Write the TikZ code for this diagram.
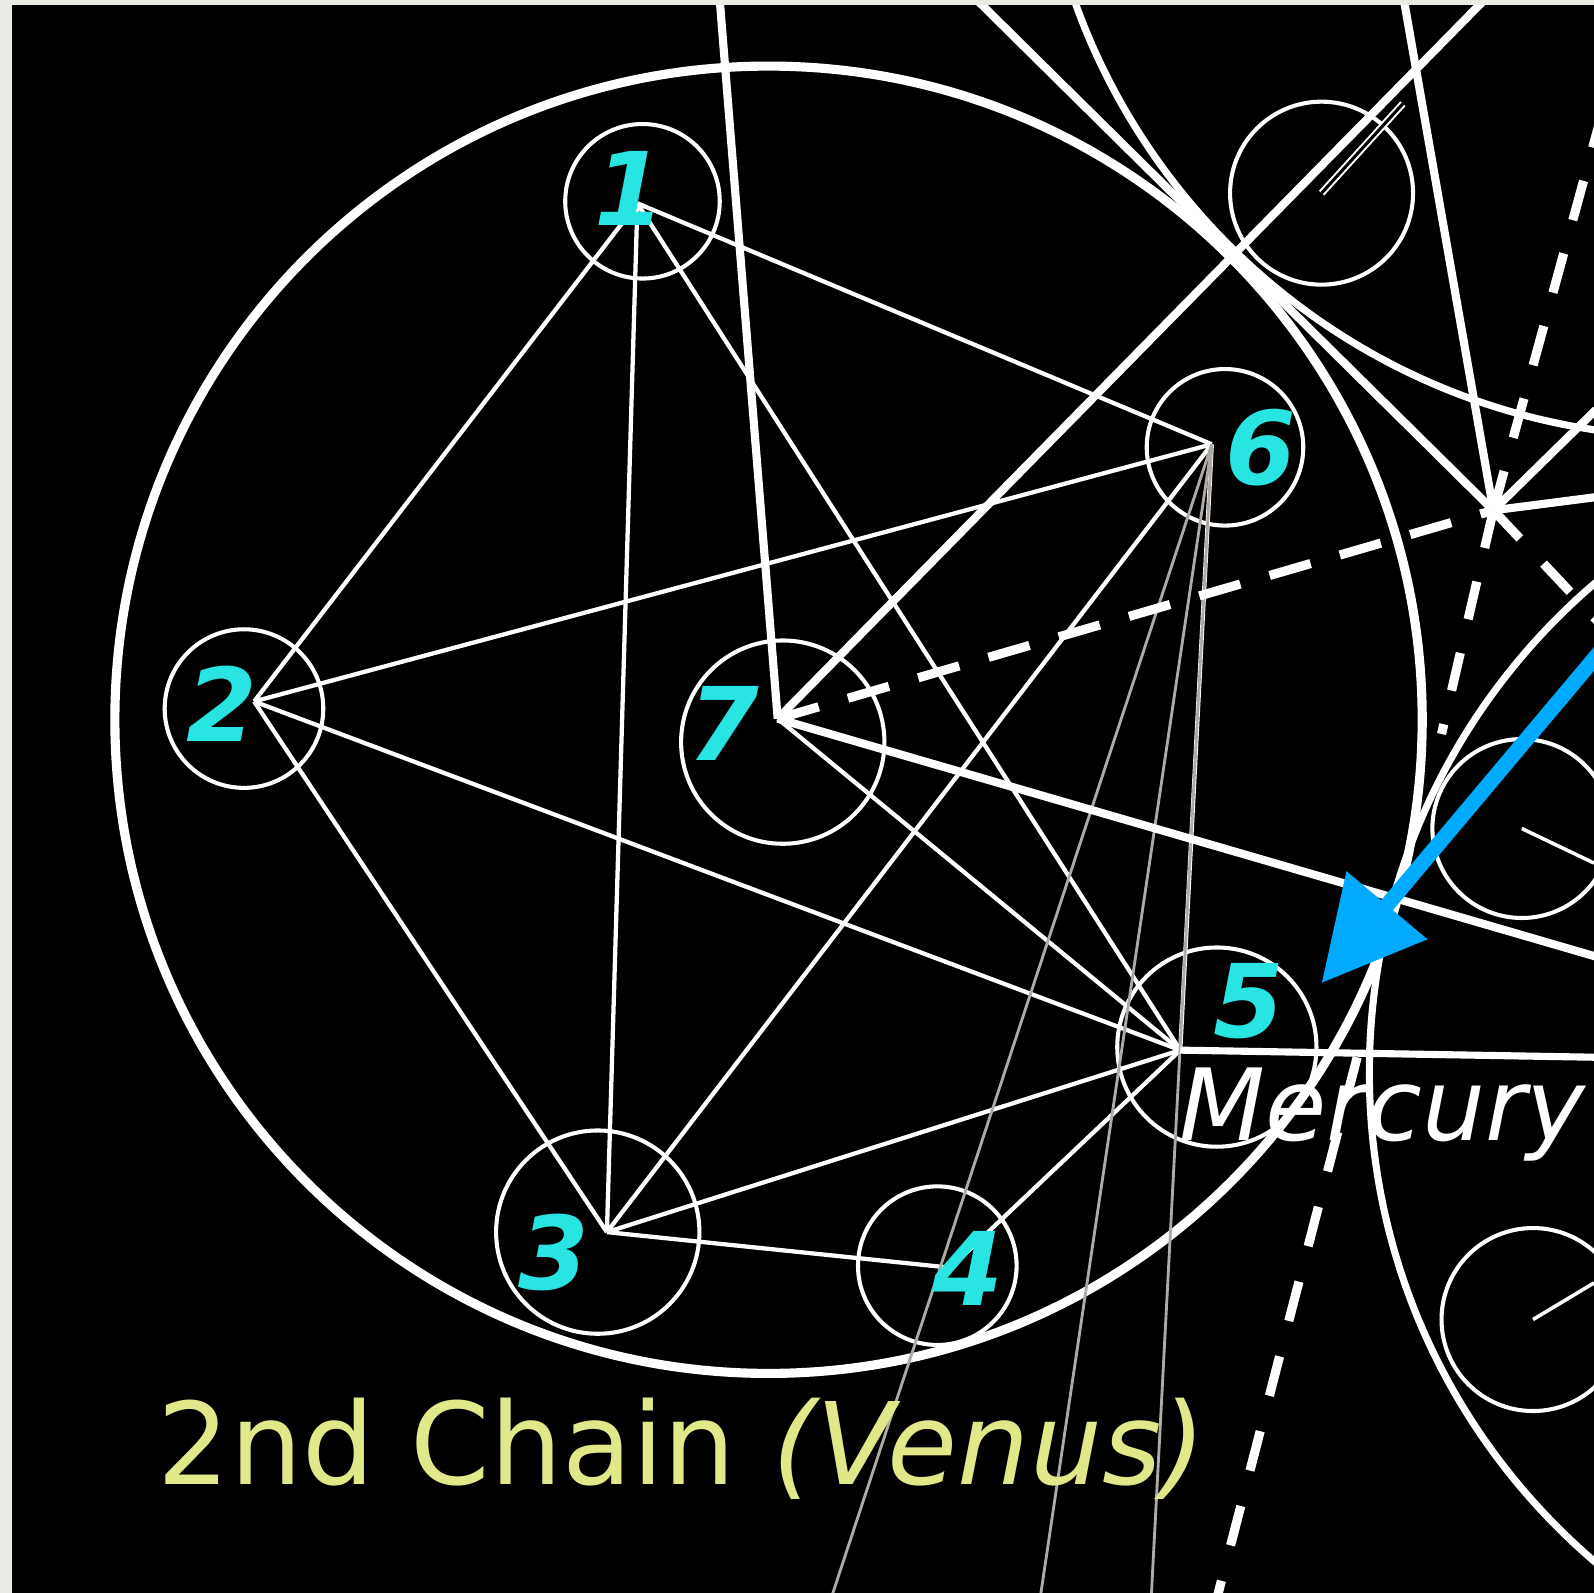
\documentclass[tikz,border=0pt]{standalone}
\usepackage{fontspec}
\setmainfont{DejaVu Sans}[ItalicFont={DejaVu Sans Oblique},BoldFont={DejaVu Sans Bold},BoldItalicFont={DejaVu Sans Bold Oblique}]
\usetikzlibrary{arrows.meta}
\definecolor{chaincyan}{RGB}{40,228,226}
\definecolor{labelyellow}{RGB}{224,232,138}
\definecolor{arrowblue}{RGB}{0,170,255}
\definecolor{paper}{RGB}{236,234,228}
\definecolor{faint}{RGB}{175,170,165}
\tikzset{
  chainline/.style={white, line width=4.2pt},
  greyline/.style={faint, line width=2.8pt},
  thickray/.style={white, line width=8pt},
  dashray/.style={white, line width=9pt, dash pattern=on 42pt off 30pt},
  ring/.style={circle, draw=white, line width=4pt, inner sep=0pt},
  num/.style={text=chaincyan, inner sep=0pt, font=\fontsize{100}{100}\selectfont\bfseries\itshape},
}

\begin{document}
\begin{tikzpicture}[x=1pt, y=-1pt, >=latex]
        % Cornice e fondo nero
        \fill[paper] (0,0) rectangle (1568,1567);
        \fill[black] (12,5) rectangle (1568,1567);
        \useasboundingbox (0,0) rectangle (1568,1567);

        \begin{scope}
        \clip (12,5) rectangle (1568,1567);

        % Punti della catena
        \coordinate (p1) at (627,200);
        \coordinate (p2) at (250,690);
        \coordinate (p3) at (597,1212);
        \coordinate (p4) at (935,1247);
        \coordinate (p5) at (1161,1033);
        \coordinate (p6) at (1192,437);
        \coordinate (p7) at (765,707);
        \coordinate (V) at (1469,502);

        % Cerchi grandi (Venere, Mercurio, Terra)
        \draw[white, line width=9pt] (756,708) circle[radius=643pt];
        \draw[white, line width=7pt] (1980,1055) circle[radius=633pt];
        \draw[white, line width=7pt] (1665,-215) circle[radius=645pt];

        % Globi della catena
        \node[ring, minimum size=152pt] (c1) at (632,198) {};
        \node[ring, minimum size=156pt] (c2) at (240,697) {};
        \node[ring, minimum size=200pt] (c3) at (588,1212) {};
        \node[ring, minimum size=156pt] (c4) at (922,1245) {};
        \node[ring, minimum size=196pt] (c5) at (1197,1030) {};
        \node[ring, minimum size=154pt] (c6) at (1205,440) {};
        \node[ring, minimum size=200pt] (c7) at (770,730) {};

        % Globi delle altre catene
        \node[ring, minimum size=180pt] (e1) at (1300,190) {};
        \node[ring, minimum size=176pt] (m1) at (1497,815) {};
        \node[ring, minimum size=180pt] (m2) at (1508,1298) {};
        \draw[white, line width=2pt, double=black, double distance=3pt] (e1.center) -- (1380,102);
        \draw[white, line width=3.5pt] (m1.center) -- (1568,849);
        \draw[white, line width=3.5pt] (m2.center) -- (1568,1262);

        % Linee sottili tra i globi
        \foreach \a/\b in {1/2,1/3,1/5,1/6,2/3,2/5,2/6,3/4,3/5,3/6,4/5,5/6,7/5}
            \draw[chainline] (p\a) -- (p\b);

        % Linee grigie verso il globo 6
        \coordinate (g1) at (815,1580);
        \coordinate (g2) at (1022,1580);
        \coordinate (g3) at (1132,1580);
        \foreach \g in {g1,g2,g3}
            \draw[greyline] (\g) -- (p6);

        % Raggi spessi dal centro
        \draw[thickray] (p7) -- (708,0);
        \draw[thickray] (p7) -- (1460,0);
        \draw[thickray] (p7) -- (1570,941);
        \draw[thickray] (961,0) -- (V);
        \draw[thickray] (1381,0) -- (V);
        \draw[thickray] (V) -- (1570,403);
        \draw[thickray] (V) -- (1570,489);
        \draw[white, line width=7pt] (p5) -- (1570,1040);

        % Raggi tratteggiati
        \draw[dashray] (p7) -- (V);
        \draw[dashray, dash pattern=on 38pt off 34pt] (V) -- (1418,722);
        \draw[dashray, dash pattern=on 38pt off 34pt] (V) -- (1580,620);
        \draw[dashray, dash pattern=on 40pt off 34pt] (V) -- (1590,60);
        \draw[dashray, dash pattern=on 40pt off 36pt] (1335,1040) -- (1195,1580);

        % Freccia blu
        \coordinate (arrowtail) at (1590,622);
        \coordinate (arrowtip) at (1300,967);
        \draw[arrowblue, line width=15pt, -{Triangle[length=100pt, width=100pt]}] (arrowtail) -- (arrowtip);

        % Numeri dei globi
        \node[num] (n1) at (620,185) {1};
        \node[num] (n2) at (218,692) {2};
        \node[num] (n3) at (545,1232) {3};
        \node[num] (n4) at (952,1248) {4};
        \node[num] (n5) at (1228,985) {5};
        \node[num] (n6) at (1240,440) {6};
        \node[num] (n7) at (712,712) {7};

        % Scritte
        \node[anchor=base west, white, inner sep=0pt, font=\fontsize{98}{98}\selectfont\itshape] (mercury) at (1160,1122) {Mercury};
        \node[anchor=base west, text=labelyellow, inner sep=0pt, font=\fontsize{112}{112}\selectfont] (chain) at (155,1460) {2nd Chain \textit{(Venus)}};
        \end{scope}

    \end{tikzpicture}
\end{document}
